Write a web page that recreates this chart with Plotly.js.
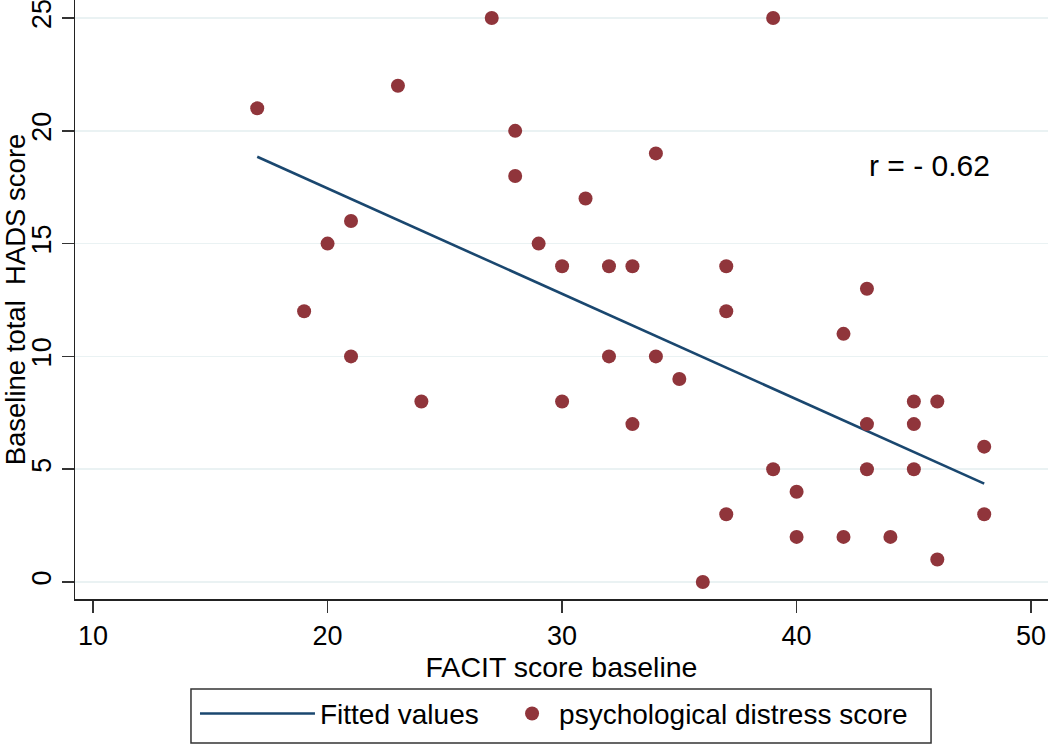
<!DOCTYPE html>
<html>
<head>
<meta charset="utf-8">
<script src="https://cdn.plot.ly/plotly-3.0.1.min.js"></script>
<style>
html, body { margin: 0; padding: 0; background: #ffffff; }
#chart { width: 1050px; height: 744px; }
</style>
</head>
<body>
<div id="chart"></div>
<script>
// FACIT score baseline (x) vs Baseline total HADS score (y)
const facitScores = [17, 19, 20, 21, 21, 23, 24, 27, 28, 28, 29, 30, 30, 31, 32, 32, 33, 33, 34, 34, 35,
                     36, 37, 37, 37, 39, 39, 40, 40, 42, 42, 43, 43, 43, 44, 45, 45, 45, 46, 46, 48, 48];
const hadsScores  = [21, 12, 15, 16, 10, 22, 8, 25, 20, 18, 15, 14, 8, 17, 14, 10, 14, 7, 19, 10, 9,
                     0, 14, 12, 3, 25, 5, 4, 2, 11, 2, 13, 7, 5, 2, 8, 7, 5, 8, 1, 6, 3];

// Fitted regression line endpoints
const fitX = [17, 48];
const fitY = [18.85, 4.36];

const xTickVals = [10, 20, 30, 40, 50];
const yTickVals = [0, 5, 10, 15, 20, 25];

const seriesNames = ["Fitted values", "psychological distress score"];
const annotationText = "r = - 0.62";
const xTitle = "FACIT score baseline";
const yTitle = "Baseline total \u00a0HADS score";

const FONT = "Liberation Sans, Arial, Helvetica, sans-serif";

const traces = [
  {
    x: fitX, y: fitY,
    type: "scatter", mode: "lines",
    name: seriesNames[0],
    legend: "legend",
    line: { color: "#1A476F", width: 2.6 }
  },
  {
    x: facitScores, y: hadsScores,
    type: "scatter", mode: "markers",
    name: seriesNames[1],
    legend: "legend2",
    marker: { color: "#90353B", size: 14, line: { width: 0 } }
  }
];

const legendFont = { family: FONT, size: 28, color: "#000000" };

const layout = {
  width: 1050, height: 744,
  paper_bgcolor: "#ffffff",
  plot_bgcolor: "#ffffff",
  margin: { l: 75, r: 2, t: 0, b: 145, pad: 0 },
  font: { family: FONT, color: "#000000", size: 27 },
  showlegend: true,
  legend: {
    orientation: "h",
    x: 0.1233, xanchor: "left",
    y: -0.150, yanchor: "top",
    borderwidth: 0,
    bgcolor: "rgba(0,0,0,0)",
    font: legendFont,
    itemwidth: 115
  },
  legend2: {
    orientation: "h",
    x: 0.442, xanchor: "left",
    y: -0.150, yanchor: "top",
    borderwidth: 0,
    bgcolor: "rgba(0,0,0,0)",
    font: legendFont,
    itemwidth: 44
  },
  shapes: [
    {
      type: "rect", xref: "paper", yref: "paper",
      x0: 0.1192, x1: 0.8798, y0: -0.2404, y1: -0.1503,
      line: { color: "#333333", width: 1.5 },
      fillcolor: "rgba(0,0,0,0)",
      layer: "below"
    }
  ],
  xaxis: {
    range: [9.23, 50.72],
    tickmode: "array", tickvals: xTickVals,
    ticks: "outside", ticklen: 12, tickwidth: 1.5, tickcolor: "#333333",
    showline: true, linecolor: "#222222", linewidth: 1.5,
    showgrid: false, zeroline: false,
    tickfont: { family: FONT, size: 27, color: "#000000" },
    title: { text: xTitle, font: { family: FONT, size: 28.5, color: "#000000" }, standoff: 0 },
    automargin: false
  },
  yaxis: {
    range: [-0.754, 25.8],
    tickmode: "array", tickvals: yTickVals,
    tickangle: -90,
    ticklabeloverflow: "allow",
    ticks: "outside", ticklen: 12, tickwidth: 1.5, tickcolor: "#333333",
    showline: true, linecolor: "#222222", linewidth: 1.5,
    showgrid: true, gridcolor: "#EAF2F3", gridwidth: 1.6,
    zeroline: false,
    tickfont: { family: FONT, size: 27, color: "#000000" },
    title: { text: yTitle, font: { family: FONT, size: 27.5, color: "#000000" }, standoff: 6 },
    automargin: false
  },
  annotations: [
    {
      text: annotationText,
      x: 43.0, y: 18.45, xref: "x", yref: "y",
      xanchor: "left", yanchor: "middle",
      showarrow: false,
      font: { family: FONT, size: 30, color: "#000000" }
    }
  ]
};

Plotly.newPlot("chart", traces, layout, { displayModeBar: false, staticPlot: true });
</script>
</body>
</html>
